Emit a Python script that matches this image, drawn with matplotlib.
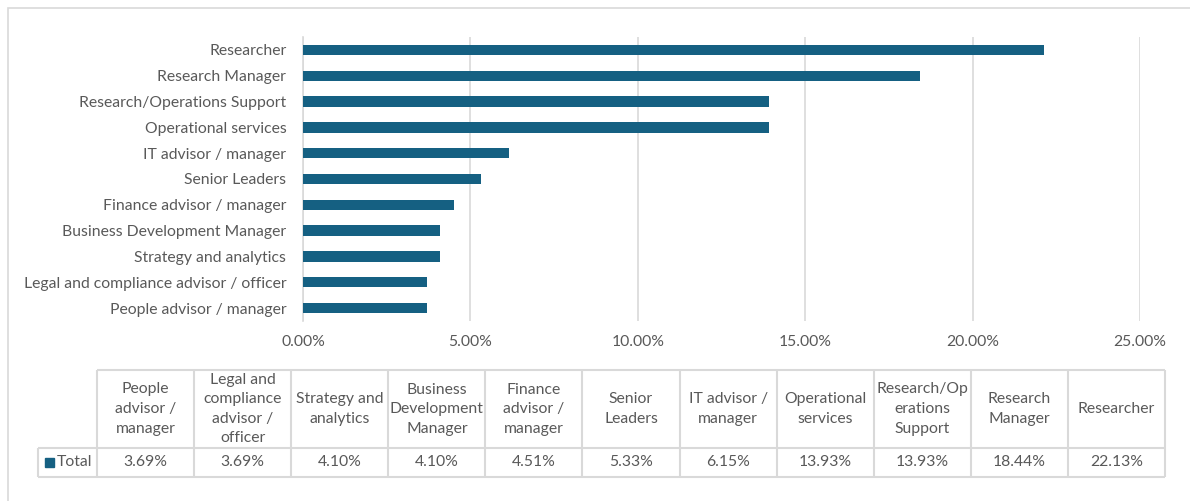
import matplotlib
matplotlib.use("Agg")
import matplotlib.pyplot as plt
from matplotlib.patches import Rectangle

# data (ascending, as in the data table)
categories = [
    "People advisor / manager",
    "Legal and compliance advisor / officer",
    "Strategy and analytics",
    "Business Development Manager",
    "Finance advisor / manager",
    "Senior Leaders",
    "IT advisor / manager",
    "Operational services",
    "Research/Operations Support",
    "Research Manager",
    "Researcher",
]
table_headers = [
    "People\nadvisor /\nmanager",
    "Legal and\ncompliance\nadvisor /\nofficer",
    "Strategy and\nanalytics",
    "Business\nDevelopment\nManager",
    "Finance\nadvisor /\nmanager",
    "Senior\nLeaders",
    "IT advisor /\nmanager",
    "Operational\nservices",
    "Research/Op\nerations\nSupport",
    "Research\nManager",
    "Researcher",
]
values = [0.0369, 0.0369, 0.0410, 0.0410, 0.0451, 0.0533, 0.0615,
          0.1393, 0.1393, 0.1844, 0.2213]
series_name = "Total"
x_ticks = [0.0, 0.05, 0.10, 0.15, 0.20, 0.25]

BAR = "#156082"
GRID = "#d9d9d9"
TXT = "#595959"
FS = 11.3
plt.rcParams["font.family"] = ["Lato", "DejaVu Sans"]

W, H = 1190, 501
fig = plt.figure(figsize=(W / 100, H / 100), dpi=100)


def box(x0, y0, x1, y1):
    # pixel box (top-left origin) -> figure fraction rect
    return [x0 / W, 1 - y1 / H, (x1 - x0) / W, (y1 - y0) / H]


# outer chart border (top and left visible)
fig.patches.append(Rectangle((7.5 / W, -0.1), 1.2, 1.1 - 7.5 / H,
                             transform=fig.transFigure, fill=False,
                             edgecolor=GRID, lw=1.2))

# bar chart
ax = fig.add_axes(box(303, 37, 1140, 321))
y = range(len(categories))
ax.barh(y, values, height=0.4, color=BAR, zorder=3)
ax.set_xlim(0, 0.25)
ax.set_ylim(-0.5, len(categories) - 0.5)
ax.set_xticks(x_ticks)
ax.set_xticklabels([f"{t * 100:.2f}%" for t in x_ticks], fontsize=FS, color=TXT)
ax.set_yticks(list(y))
ax.set_yticklabels(categories, fontsize=FS, color=TXT)
ax.tick_params(axis="both", length=0)
ax.tick_params(axis="x", pad=10)
ax.tick_params(axis="y", pad=12)
ax.grid(axis="x", color=GRID, lw=1.2, zorder=0)
for s in ["top", "right", "bottom"]:
    ax.spines[s].set_visible(False)
ax.spines["left"].set_color(GRID)
ax.spines["left"].set_linewidth(1.2)

# data table
n = len(categories)
hdr_w = 59 / 97.1
row_h, hdr_h = 29, 78
tax = fig.add_axes(box(38, 370, 1165, 477))
tax.set_xlim(-hdr_w, n)
tax.set_ylim(0, row_h + hdr_h)
tax.axis("off")
lc = dict(color=GRID, lw=1.5, clip_on=False)
tax.hlines([row_h + hdr_h], 0, n, **lc)
tax.hlines([0, row_h], -hdr_w, n, **lc)
tax.vlines(range(n + 1), 0, row_h + hdr_h, **lc)
tax.vlines([-hdr_w], 0, row_h, **lc)
for i, (lab, v) in enumerate(zip(table_headers, values)):
    tax.text(i + 0.5, row_h + hdr_h / 2, lab, ha="center", va="center",
             fontsize=FS, color=TXT, linespacing=1.5)
    tax.text(i + 0.5, row_h / 2, f"{v * 100:.2f}%", ha="center", va="center",
             fontsize=FS, color=TXT)
tax.add_patch(Rectangle((-hdr_w + 0.07, row_h / 2 - 4.5), 0.09, 9, color=BAR))
tax.text(-hdr_w + 0.19, row_h / 2, series_name, ha="left", va="center",
         fontsize=FS, color=TXT)

fig.savefig("out.png", dpi=100)
